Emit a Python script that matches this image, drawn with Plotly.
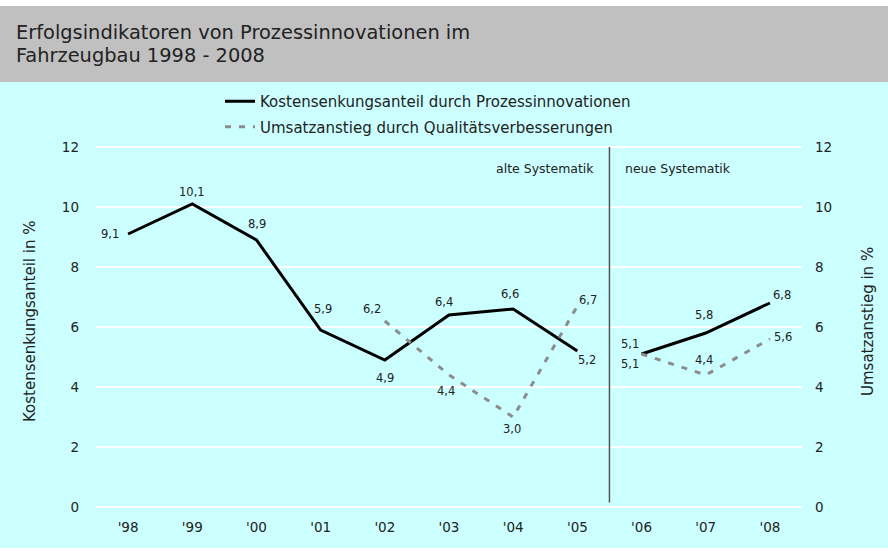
import plotly.graph_objects as go

# ---------------- data ----------------
years_old = ["'98", "'99", "'00", "'01", "'02", "'03", "'04", "'05"]
years_new = ["'06", "'07", "'08"]
cost_old = [9.1, 10.1, 8.9, 5.9, 4.9, 6.4, 6.6, 5.2]
cost_new = [5.1, 5.8, 6.8]
sales_years_old = ["'02", "'03", "'04", "'05"]
sales_old = [6.2, 4.4, 3.0, 6.7]
sales_new = [5.1, 4.4, 5.6]
all_years = years_old + years_new
y_ticks = [0, 2, 4, 6, 8, 10, 12]

name_cost = "Kostensenkungsanteil durch Prozessinnovationen"
name_sales = "Umsatzanstieg durch Qualitätsverbesserungen"

# label offsets (pixels) - styling only
cost_off = [(-18, 0), (0, 12), (1, 16), (2, 21), (0, -18), (-5, 13), (-3, 15), (10, -9),
            (-12, 10), (-2, 18), (12, 8)]
sales_off = [(-13, 12), (-3, -16), (-1, -12), (11, 6), (-12, -10), (-2, 15), (13, 2)]

W, H = 888, 551
L, R, T, B = 96, 86, 144, 41
PW, PH = W - L - R, H - T - B


def px_x(px):
    return (px - L) / PW


def px_y(py):
    return (H - B - py) / PH


CYAN = "#ccffff"
GREY = "#c0c0c0"
FONT = "DejaVu Sans"
TXT = "#222222"

fig = go.Figure()

fig.add_trace(go.Scatter(x=years_old, y=cost_old, mode="lines", name=name_cost,
                         line=dict(color="black", width=3), legendgroup="k", yaxis="y"))
fig.add_trace(go.Scatter(x=years_new, y=cost_new, mode="lines", name=name_cost,
                         line=dict(color="black", width=3), legendgroup="k",
                         showlegend=False, yaxis="y"))
fig.add_trace(go.Scatter(x=sales_years_old, y=sales_old, mode="lines", name=name_sales,
                         line=dict(color="#8c8c8c", width=3, dash="6px,8px"),
                         legendgroup="u", yaxis="y2"))
fig.add_trace(go.Scatter(x=years_new, y=sales_new, mode="lines", name=name_sales,
                         line=dict(color="#8c8c8c", width=3, dash="6px,8px"),
                         legendgroup="u", showlegend=False, yaxis="y2"))


def fmt(v):
    return f"{v:.1f}".replace(".", ",")


LBL = dict(family=FONT, size=11.5, color=TXT)
anns = []
for (x, v), (dx, dy) in zip(zip(years_old + years_new, cost_old + cost_new), cost_off):
    anns.append(dict(x=x, y=v, xref="x", yref="y", text=fmt(v), showarrow=False,
                     xshift=dx, yshift=dy, font=LBL))
for (x, v), (dx, dy) in zip(zip(sales_years_old + years_new, sales_old + sales_new), sales_off):
    anns.append(dict(x=x, y=v, xref="x", yref="y2", text=fmt(v), showarrow=False,
                     xshift=dx, yshift=dy, font=LBL))

sep_x = len(years_old) - 0.5
anns.append(dict(x=sep_x, y=px_y(159), xref="x", yref="paper", text="alte Systematik",
                 showarrow=False, xanchor="right", xshift=-13,
                 font=dict(family=FONT, size=12.5, color=TXT)))
anns.append(dict(x=sep_x, y=px_y(159), xref="x", yref="paper", text="neue Systematik",
                 showarrow=False, xanchor="left", xshift=14,
                 font=dict(family=FONT, size=12.5, color=TXT)))

# title
TFONT = dict(family=FONT, size=19.4, color=TXT)
anns.append(dict(x=px_x(14), y=px_y(32), xref="paper", yref="paper",
                 text="Erfolgsindikatoren von Prozessinnovationen im",
                 showarrow=False, xanchor="left", yanchor="middle", font=TFONT))
anns.append(dict(x=px_x(14), y=px_y(56), xref="paper", yref="paper",
                 text="Fahrzeugbau 1998 - 2008",
                 showarrow=False, xanchor="left", yanchor="middle", font=TFONT))

# axis titles
AFONT = dict(family=FONT, size=15, color=TXT)
anns.append(dict(x=px_x(30), y=px_y(322), xref="paper", yref="paper",
                 text="Kostensenkungsanteil in %", textangle=-90, showarrow=False,
                 xanchor="center", yanchor="middle", font=AFONT))
anns.append(dict(x=px_x(868), y=px_y(322), xref="paper", yref="paper",
                 text="Umsatzanstieg in %", textangle=-90, showarrow=False,
                 xanchor="center", yanchor="middle", font=AFONT))

shapes = [
    dict(type="rect", xref="paper", yref="paper", x0=px_x(0), x1=px_x(W), y0=px_y(82),
         y1=px_y(6), fillcolor=GREY, line=dict(width=0), layer="below"),
    dict(type="rect", xref="paper", yref="paper", x0=px_x(0), x1=px_x(W), y0=px_y(548),
         y1=px_y(82), fillcolor=CYAN, line=dict(width=0), layer="below"),
    dict(type="line", xref="x", yref="y", x0=sep_x, x1=sep_x, y0=0.15, y1=12,
         line=dict(color="#555555", width=1.5)),
]

TICKF = dict(family=FONT, size=13.5, color=TXT)
axis_common = dict(range=[-0.1, 12.1], tickvals=y_ticks, showgrid=True,
                   gridcolor="white", gridwidth=1.6, zeroline=False, showline=False,
                   ticks="", tickfont=TICKF, fixedrange=True)

fig.update_layout(
    width=W, height=H,
    margin=dict(l=L, r=R, t=T, b=B),
    paper_bgcolor="white",
    plot_bgcolor="rgba(0,0,0,0)",
    showlegend=True,
    legend=dict(x=px_x(220), y=px_y(85), xanchor="left", yanchor="top",
                bgcolor="rgba(0,0,0,0)", font=dict(family=FONT, size=15, color=TXT),
                tracegroupgap=3, itemwidth=30),
    xaxis=dict(type="category", categoryorder="array", categoryarray=all_years,
               range=[-0.5, len(all_years) - 0.5], showgrid=False, zeroline=False,
               showline=False, ticks="", ticklabelstandoff=7, tickfont=TICKF,
               fixedrange=True),
    yaxis=dict(**axis_common, ticklabelstandoff=16),
    yaxis2=dict(**axis_common, overlaying="y", side="right", ticklabelstandoff=12),
    annotations=anns,
    shapes=shapes,
)

fig.write_html("out.html", config={"displayModeBar": False},
               post_script=["document.body.style.margin='0px';"])
